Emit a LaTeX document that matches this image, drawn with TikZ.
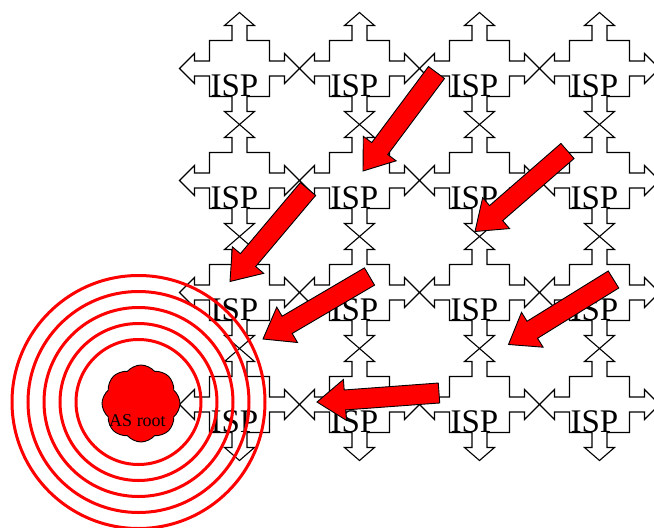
\documentclass[tikz,border=0pt]{standalone}
\usepackage{fontspec}
\setmainfont{Liberation Serif}
\usepackage{tikz}
\usetikzlibrary{calc, shapes.symbols}
\definecolor{pushred}{RGB}{255, 0, 0}
\definecolor{gridblack}{RGB}{0, 0, 0}
% block arrow from tail #1 to tip #2
\newcommand{\pusharrow}[2]{%
  \coordinate (neck) at ($(#2)!28pt!(#1)$);
  \filldraw[pushfill] ($(#1)!10pt!90:(#2)$) -- ($(neck)!10pt!90:(#2)$) -- ($(neck)!20.5pt!90:(#2)$)
    -- (#2) -- ($(neck)!20.5pt!-90:(#2)$) -- ($(neck)!10pt!-90:(#2)$) -- ($(#1)!10pt!-90:(#2)$) -- cycle;}

\begin{document}
\begin{tikzpicture}[x=1pt, y=-1pt,
  ispline/.style={draw=gridblack, line width=1.1pt, line join=miter},
  isplabel/.style={anchor=base, inner sep=0pt, font=\fontsize{33}{33}\selectfont},
  pushfill/.style={fill=pushred, draw=black, line width=0.9pt, line join=miter},
  ring/.style={draw=pushred, line width=3pt}]
  % Page frame
  \useasboundingbox (0,0) rectangle (654,528);

  % Grid of ISP crosses
  \foreach \col in {0,...,3}
    \foreach \row in {0,...,3} {
      \begin{scope}[shift={(239.5+120*\col, 68.5+112*\row)}]
        \draw[ispline] (0,-56) -- (15,-43) -- (7.5,-43) -- (7.5,-28) -- (30,-28) -- (30,-7.5)
          -- (45,-7.5) -- (45,-15) -- (60,0) -- (45,15) -- (45,7.5) -- (30,7.5) -- (30,28)
          -- (7.5,28) -- (7.5,43) -- (15,43) -- (0,56) -- (-15,43) -- (-7.5,43) -- (-7.5,28)
          -- (-30,28) -- (-30,7.5) -- (-45,7.5) -- (-45,15) -- (-60,0) -- (-45,-15)
          -- (-45,-7.5) -- (-30,-7.5) -- (-30,-28) -- (-7.5,-28) -- (-7.5,-43) -- (-15,-43) -- cycle;
      \end{scope}
      \node[isplabel] (isp-\row-\col) at (234.5+120*\col, 96.5+112*\row) {ISP};
    }

  % Arrow ends
  \coordinate (tailA) at (436.5,72.5);  \coordinate (tipA) at (363,171);
  \coordinate (tailB) at (567.5,151);   \coordinate (tipB) at (475,231.5);
  \coordinate (tailC) at (308,189);     \coordinate (tipC) at (230,281.5);
  \coordinate (tailD) at (369.5,276.5); \coordinate (tipD) at (263,339);
  \coordinate (tailE) at (613.5,279.5); \coordinate (tipE) at (508.5,344.5);
  \coordinate (tailF) at (439,393);     \coordinate (tipF) at (317,402);

  % Red arrows towards the root
  \foreach \a in {A,...,F}
    \pusharrow{tail\a}{tip\a};

  % Root cloud
  \node[cloud, cloud puffs=8, cloud puff arc=100, aspect=1, fill=pushred, draw=black,
    line width=0.9pt, minimum width=78pt, minimum height=77pt, inner sep=0pt] (root) at (141,403.5) {};
  \node[font=\fontsize{18}{18}\selectfont, inner sep=0pt] (rootlabel) at (137.5,421) {AS root};

  % Rings around the root
  \foreach \r in {62.5,78.5,94.5,110.5,126.5}
    \draw[ring] (138.5,402) circle (\r);
\end{tikzpicture}
\end{document}
